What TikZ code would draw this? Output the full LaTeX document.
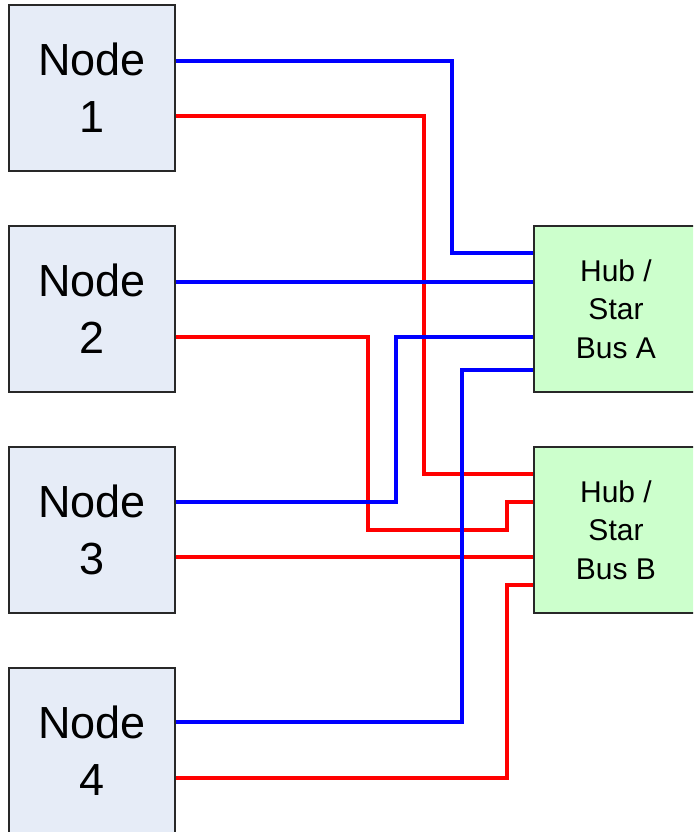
\documentclass[tikz,border=0pt]{standalone}
\usepackage{fontspec}
\setmainfont{Liberation Sans}
\definecolor{nodefill}{RGB}{230,236,247}
\definecolor{hubfill}{RGB}{204,255,204}
\definecolor{edgegray}{RGB}{40,40,40}
\begin{document}
\begin{tikzpicture}[x=1pt,y=-1pt,
  nodebox/.style={draw=edgegray,line width=1.3pt,fill=nodefill,minimum width=166pt,minimum height=166pt,inner sep=0pt,align=center,font=\fontsize{45}{57}\selectfont},
  hubbox/.style={draw=edgegray,line width=1.3pt,fill=hubfill,minimum width=164pt,minimum height=166pt,inner sep=0pt,align=center,font=\fontsize{30}{38.5}\selectfont},
  bline/.style={draw=blue,line width=4pt},
  rline/.style={draw=red,line width=4pt}]
\useasboundingbox (0,0) rectangle (693,832);
\clip (0,0) rectangle (693,832);
\node[nodebox] (n1) at (92,88) {Node\\1};
\node[nodebox] (n2) at (92,309) {Node\\2};
\node[nodebox] (n3) at (92,530) {Node\\3};
\node[nodebox] (n4) at (92,751) {Node\\4};
\node[hubbox] (hA) at (616,309) {Hub /\\Star\\Bus A};
\node[hubbox] (hB) at (616,530) {Hub /\\Star\\Bus B};
% Node 1
\draw[bline] ([yshift=27pt]n1.east) -| (452,150) |- ([yshift=56pt]hA.west);
\draw[rline] ([yshift=-28pt]n1.east) -| (424,300) |- ([yshift=56pt]hB.west);
% Node 2
\draw[bline] ([yshift=27pt]n2.east) -- ([yshift=27pt]hA.west);
\draw[rline] ([yshift=-28pt]n2.east) -| (368,530) -| (507,516) |- ([yshift=28pt]hB.west);
% Node 3
\draw[bline] ([yshift=28pt]n3.east) -| (396,420) |- ([yshift=-28pt]hA.west);
\draw[rline] ([yshift=-27pt]n3.east) -- ([yshift=-27pt]hB.west);
% Node 4
\draw[bline] ([yshift=29pt]n4.east) -| (462,500) |- ([yshift=-61pt]hA.west);
\draw[rline] ([yshift=-27pt]n4.east) -| (507,680) |- ([yshift=-55pt]hB.west);
\end{tikzpicture}
\end{document}
